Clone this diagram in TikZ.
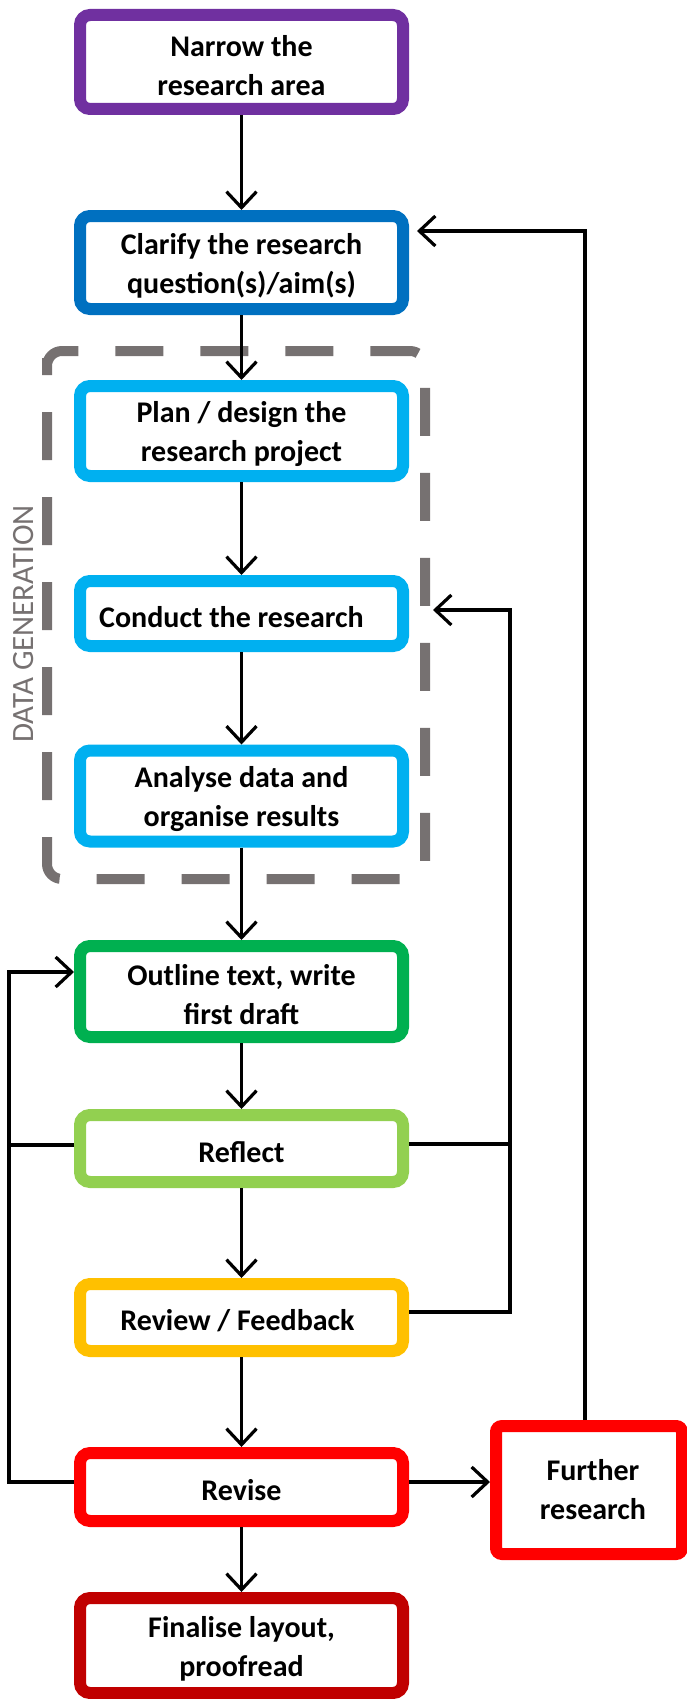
\documentclass[tikz,border=0pt]{standalone}
\usepackage{fontspec}
\setmainfont{Carlito}
\usetikzlibrary{arrows.meta,calc}
\definecolor{cpurple}{HTML}{7030A0}
\definecolor{cdblue}{HTML}{0070C0}
\definecolor{clblue}{HTML}{00B0F0}
\definecolor{cgreen}{HTML}{00B050}
\definecolor{clgreen}{HTML}{92D050}
\definecolor{corange}{HTML}{FFC000}
\definecolor{cred}{HTML}{FF0000}
\definecolor{cdred}{HTML}{C00000}
\definecolor{cgray}{HTML}{767171}
\begin{document}
\begin{tikzpicture}[x=1pt,y=-1pt,
  box/.style={draw=#1, line width=12pt, rounded corners=10pt, fill=white,
    minimum width=323pt, inner sep=0pt},
  txt/.style={align=center, inner sep=0pt, yshift=-3.5pt,
    font=\fontsize{30}{39}\selectfont\bfseries},
  conn/.style={line width=3.2pt, draw=black},
  arr/.style={conn, -{Straight Barb[length=16pt,width=30pt]}}]
\useasboundingbox (0,0) rectangle (687,1699);
% dashed group
\draw[cgray, line width=10pt, dash pattern=on 48pt off 37pt, rounded corners=15pt]
  (47,373) -- (47,351) -- (425,351) -- (425,879) -- (47,879) -- cycle;
\node[rotate=90, text=cgray, font=\fontsize{31}{36}\selectfont] (dg) at (24,624) {DATA GENERATION};
% boxes
\node[box=cpurple, minimum height=94pt] (narrow) at (241.5,62) {};
\node[box=cdblue, minimum height=93pt] (clarify) at (241.5,262.5) {};
\node[box=clblue, minimum height=90pt] (plan) at (241.5,431) {};
\node[box=clblue, minimum height=65pt] (conduct) at (241.5,613.5) {};
\node[box=clblue, minimum height=91pt] (analyse) at (241.5,796) {};
\node[box=cgreen, minimum height=91pt] (outline) at (241.5,991.5) {};
\node[box=clgreen, minimum height=67pt] (reflect) at (241.5,1148.5) {};
\node[box=corange, minimum height=67pt] (review) at (241.5,1317.5) {};
\node[box=cred, minimum height=68pt] (revise) at (241.5,1487) {};
\node[box=cdred, minimum height=95pt] (finalise) at (241.5,1645.5) {};
\node[box=cred, minimum width=186pt, minimum height=128pt, rounded corners=6pt] (further) at (589,1490) {};
% texts
\node[txt] (narrowT) at (narrow) {Narrow the\\research area};
\node[txt] (clarifyT) at (clarify) {Clarify the research\\question(s)/aim(s)};
\node[txt] (planT) at (plan) {Plan / design the\\research project};
\node[txt, xshift=-10pt] (conductT) at (conduct) {Conduct the research};
\node[txt] (analyseT) at (analyse) {Analyse data and\\organise results};
\node[txt] (outlineT) at (outline) {Outline text, write\\first draft};
\node[txt] (reflectT) at (reflect) {Reflect};
\node[txt, xshift=-4pt] (reviewT) at (review) {Review / Feedback};
\node[txt] (reviseT) at (revise) {Revise};
\node[txt] (finaliseT) at (finalise) {Finalise layout,\\proofread};
\node[txt, yshift=3.5pt, xshift=4pt] (furtherT) at (further) {Further\\research};
% main chain
\draw[arr] (narrow) -- (clarify);
\draw[arr] (clarify) -- (plan);
\draw[arr] (plan) -- (conduct);
\draw[arr] (conduct) -- (analyse);
\draw[arr] (analyse) -- (outline);
\draw[arr] (outline) -- (reflect);
\draw[arr] (reflect) -- (review);
\draw[arr] (review) -- (revise);
\draw[arr] (revise) -- (finalise);
% helper coordinates
\coordinate (leftx) at (9,1300);
\coordinate (rightx) at (510,1300);
\coordinate (revW) at ($(revise.west)+(0,-5)$);
\coordinate (refW) at ($(reflect.west)+(0,-3.5)$);
\coordinate (outW) at ($(outline.west)+(0,-19.5)$);
\coordinate (refE) at ($(reflect.east)+(0,-4.5)$);
\coordinate (revE) at ($(review.east)+(0,-5.5)$);
\coordinate (conE) at ($(conduct.east)+(0,-3.5)$);
\coordinate (rvsE) at ($(revise.east)+(0,-5)$);
\coordinate (furN) at ($(further.north)+(-4,0)$);
\coordinate (claE) at ($(clarify.east)+(0,-31.5)$);
% left loop
\draw[arr] (revW) -| (leftx) |- (outW);
\draw[conn] (refW) -- (refW -| leftx);
% right loop
\draw[arr, shorten >=24pt] (revE) -| (rightx) |- (conE);
\draw[conn] (refE) -- (refE -| rightx);
% further research
\draw[arr] (rvsE) -- (rvsE -| further.west);
\draw[arr, shorten >=8pt] (furN) |- (claE);
\end{tikzpicture}
\end{document}
